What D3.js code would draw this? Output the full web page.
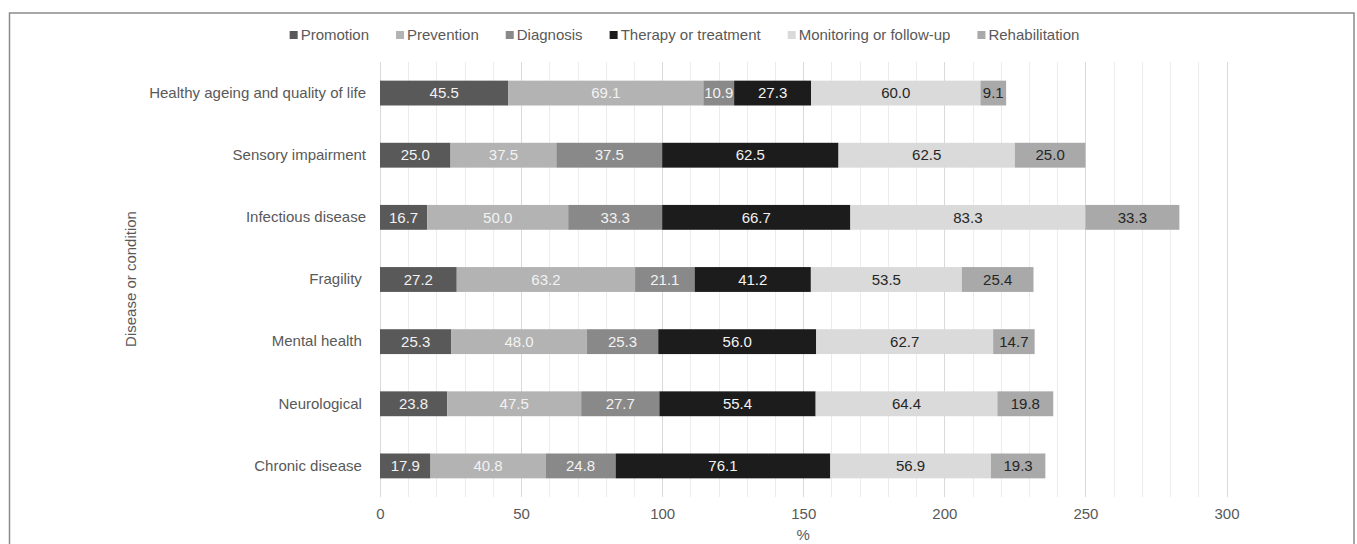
<!DOCTYPE html>
<html>
<head>
<meta charset="utf-8">
<script src="https://cdn.jsdelivr.net/npm/d3@7"></script>
<style>
  html, body { margin: 0; padding: 0; background: #fff; }
  svg { display: block; font-family: "Liberation Sans", Arial, sans-serif; }
  .cat { white-space: pre; }
</style>
</head>
<body>
<svg id="chart" width="1357" height="544"></svg>
<script>
const categories = ["Healthy ageing and quality of life", "Sensory impairment", "Infectious disease", "Fragility ", "Mental health ", "Neurological ", "Chronic disease "];
const seriesNames = ["Promotion", "Prevention", "Diagnosis", "Therapy or treatment", "Monitoring or follow-up", "Rehabilitation"];
const promotion      = [45.5, 25.0, 16.7, 27.2, 25.3, 23.8, 17.9];
const prevention     = [69.1, 37.5, 50.0, 63.2, 48.0, 47.5, 40.8];
const diagnosis      = [10.9, 37.5, 33.3, 21.1, 25.3, 27.7, 24.8];
const therapy        = [27.3, 62.5, 66.7, 41.2, 56.0, 55.4, 76.1];
const monitoring     = [60.0, 62.5, 83.3, 53.5, 62.7, 64.4, 56.9];
const rehabilitation = [9.1, 25.0, 33.3, 25.4, 14.7, 19.8, 19.3];
const xTicks = [0, 50, 100, 150, 200, 250, 300];
const xTitle = "%";
const yTitle = "Disease or condition";

const seriesValues = [promotion, prevention, diagnosis, therapy, monitoring, rehabilitation];
const colors = ["#595959", "#b3b3b3", "#898989", "#1c1c1c", "#dadada", "#a9a9a9"];
const labelColors = ["#f2f2f2", "#f2f2f2", "#f2f2f2", "#f2f2f2", "#262626", "#262626"];
const FS = 15;

const rows = categories.map((c, i) => {
  const r = { cat: c };
  seriesNames.forEach((s, j) => r[s] = seriesValues[j][i]);
  return r;
});
const stacked = d3.stack().keys(seriesNames)(rows);

const svg = d3.select("#chart");
const x = d3.scaleLinear().domain([0, 300]).range([380, 1226.5]);
const y = d3.scaleBand().domain(categories).range([62, 497]).paddingInner(0.6).paddingOuter(0.3);

// frame
svg.append("rect").attr("x", 9.5).attr("y", 13).attr("width", 1344.5).attr("height", 560)
  .attr("fill", "none").attr("stroke", "#8a8a8a").attr("stroke-width", 1.5);

// gridlines every 10
const grid = d3.range(10, 301, 10);
svg.append("g").selectAll("line").data(grid).join("line")
  .attr("x1", d => Math.round(x(d)) + 0.5).attr("x2", d => Math.round(x(d)) + 0.5)
  .attr("y1", 62).attr("y2", 497)
  .attr("stroke", d => d % 50 === 0 ? "#d9d9d9" : "#ececec").attr("stroke-width", 1);
// axis line at 0
svg.append("line").attr("x1", Math.round(x(0)) + 0.5).attr("x2", Math.round(x(0)) + 0.5)
  .attr("y1", 62).attr("y2", 497).attr("stroke", "#d9d9d9");

// bars
const layers = svg.append("g").selectAll("g").data(stacked).join("g")
  .attr("fill", (d, i) => colors[i]);
layers.selectAll("rect").data(d => d).join("rect")
  .attr("x", d => x(d[0]))
  .attr("width", d => x(d[1]) - x(d[0]))
  .attr("y", d => y(d.data.cat))
  .attr("height", y.bandwidth());

// value labels
stacked.forEach((layer, i) => {
  svg.append("g").selectAll("text").data(layer).join("text")
    .attr("x", d => (x(d[0]) + x(d[1])) / 2)
    .attr("y", d => y(d.data.cat) + y.bandwidth() / 2)
    .attr("dy", "0.35em")
    .attr("text-anchor", "middle")
    .attr("font-size", FS)
    .attr("fill", labelColors[i])
    .text(d => (d[1] - d[0]).toFixed(1));
});

// y axis (category labels)
const yAxis = d3.axisLeft(y).tickSize(0).tickPadding(14);
const yg = svg.append("g").attr("transform", `translate(${x(0)},0)`).call(yAxis);
yg.select(".domain").remove();
yg.selectAll("text").attr("class", "cat").attr("font-size", FS).attr("fill", "#595959")
  .attr("font-family", "Liberation Sans, Arial, sans-serif");

// x axis
const xAxis = d3.axisBottom(x).tickValues(xTicks).tickSize(0).tickPadding(11);
const xg = svg.append("g").attr("transform", "translate(0,497)").call(xAxis);
xg.select(".domain").remove();
xg.selectAll("text").attr("font-size", FS).attr("fill", "#595959")
  .attr("font-family", "Liberation Sans, Arial, sans-serif");

// axis titles
svg.append("text").attr("x", x(150)).attr("y", 535).attr("dy", "0.35em")
  .attr("text-anchor", "middle").attr("font-size", FS).attr("fill", "#595959").text(xTitle);
svg.append("text").attr("transform", "translate(131,279) rotate(-90)").attr("dy", "0.35em")
  .attr("text-anchor", "middle").attr("font-size", FS).attr("fill", "#595959").text(yTitle);

// legend
const legend = svg.append("g");
let cx = 0;
seriesNames.forEach((s, i) => {
  const g = legend.append("g");
  g.append("rect").attr("x", 0).attr("y", -4).attr("width", 8).attr("height", 8).attr("fill", colors[i]);
  const t = g.append("text").attr("x", 11).attr("y", 0).attr("dy", "0.35em")
    .attr("font-size", FS).attr("fill", "#595959").text(s);
  const w = 11 + t.node().getComputedTextLength();
  g.attr("transform", `translate(${cx},35)`);
  cx += w + 27;
});
const totalW = cx - 27;
legend.attr("transform", `translate(${684.5 - totalW / 2},0)`);
</script>
</body>
</html>
